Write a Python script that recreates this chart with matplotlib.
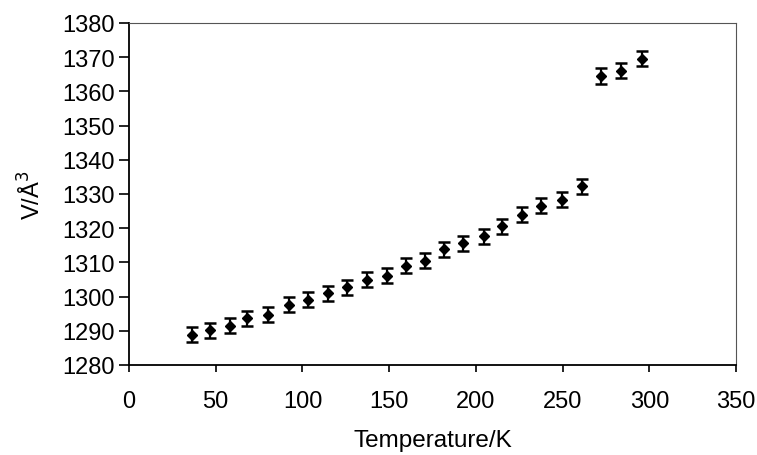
import matplotlib.pyplot as plt

plt.rcParams['font.family'] = ['Liberation Sans', 'DejaVu Sans']

# temperature (K) and unit cell volume (A^3)
temperature = [36.5, 46.7, 58.1, 68.2, 80.4, 92.4, 103.1, 114.9, 125.6, 137.2,
               148.7, 159.5, 170.9, 181.7, 192.8, 204.5, 215.1, 226.7, 237.4,
               249.4, 261.2, 272.3, 283.9, 296.0]
volume = [1288.8, 1290.2, 1291.5, 1293.7, 1294.7, 1297.6, 1299.1, 1301.0,
          1302.7, 1304.9, 1306.1, 1309.0, 1310.5, 1313.9, 1315.6, 1317.6,
          1320.5, 1323.9, 1326.5, 1328.3, 1332.2, 1364.5, 1366.1, 1369.5]
volume_err = [2.2] * len(volume)

x_ticks = [0, 50, 100, 150, 200, 250, 300, 350]
y_ticks = [1280, 1290, 1300, 1310, 1320, 1330, 1340, 1350, 1360, 1370, 1380]

fig = plt.figure(figsize=(7.57, 4.56), dpi=100)
ax = fig.add_axes([0.1704, 0.1974, 0.802, 0.75])

ax.errorbar(temperature, volume, yerr=volume_err, fmt='D', color='black',
            markersize=5.5, ecolor='black', elinewidth=1.6, capsize=4.5,
            capthick=1.8)

ax.set_xlim(0, 350)
ax.set_ylim(1280, 1380)
ax.set_xticks(x_ticks)
ax.set_yticks(y_ticks)
ax.tick_params(direction='out', width=1.2, labelsize=17)
ax.tick_params(axis='x', length=5, pad=13)
ax.tick_params(axis='y', length=7, pad=3)

for side in ['left', 'bottom']:
    ax.spines[side].set_linewidth(1.3)
for side in ['top', 'right']:
    ax.spines[side].set_linewidth(0.8)
    ax.spines[side].set_color('#555555')

ax.set_xlabel('Temperature/K', fontsize=17.5, labelpad=12)
ax.set_ylabel('V/Å$^3$', fontsize=17, labelpad=12)

plt.savefig('out.png', dpi=100)
